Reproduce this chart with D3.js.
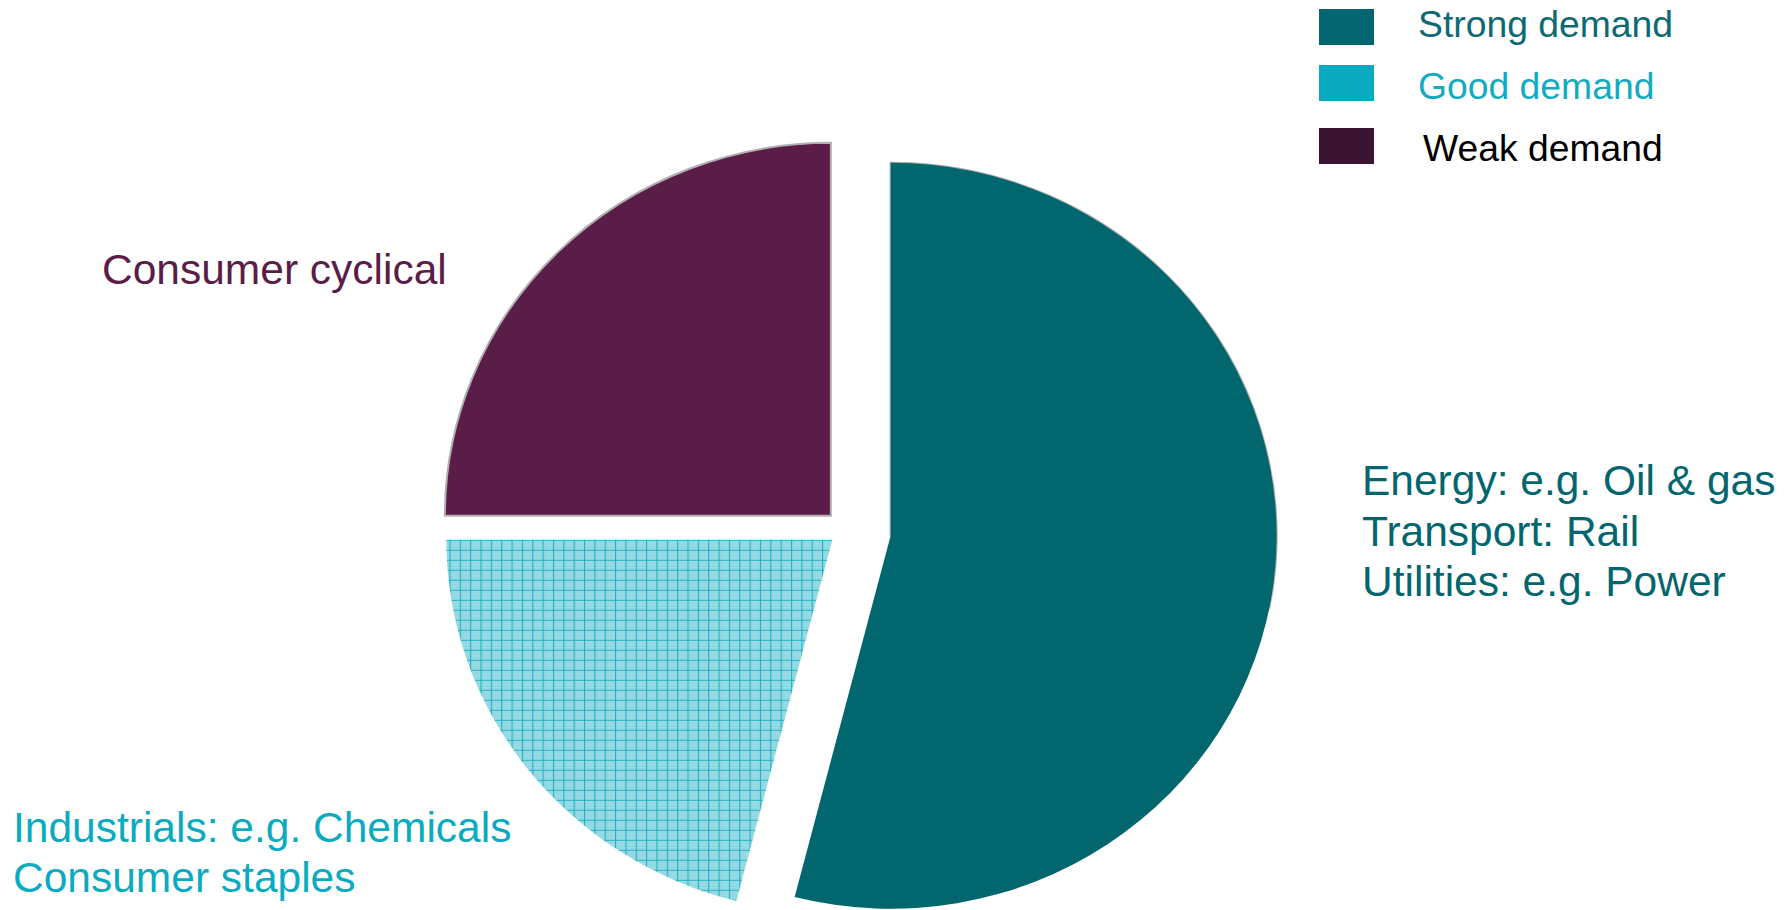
<!DOCTYPE html>
<html>
<head>
<meta charset="utf-8">
<script src="https://cdn.jsdelivr.net/npm/d3@7/dist/d3.min.js"></script>
<style>
  html, body { margin: 0; padding: 0; background: #ffffff; }
  svg { display: block; }
  text { font-family: "Liberation Sans", Arial, Helvetica, sans-serif; }
</style>
</head>
<body>
<svg id="chart" width="1791" height="910"></svg>
<script>
// ---- data ----
const categories = ["Strong demand", "Good demand", "Weak demand"];
const shares = [54, 21, 25];
const sectorLabels = [
  ["Energy: e.g. Oil & gas", "Transport: Rail", "Utilities: e.g. Power"],
  ["Industrials: e.g. Chemicals", "Consumer staples"],
  ["Consumer cyclical"]
];

// ---- styles / layout ----
const W = 1791, H = 910;
const cx = 845, cy = 530;
const ry = 373, sx = 386 / 373;
const explode = { "Strong demand": 46, "Good demand": 16, "Weak demand": 20 };
const sliceColor = d3.scaleOrdinal(categories, ["#02666f", "url(#gridPat)", "#5a1d48"]);
const swatchColor = d3.scaleOrdinal(categories, ["#02656f", "#0aabc1", "#3a1430"]);
const legendText = d3.scaleOrdinal(categories, ["#0d6a73", "#12abc1", "#000000"]);
const labelColor = d3.scaleOrdinal(categories, ["#03666f", "#0aabc1", "#5a1d48"]);
const strokeCol = "#b0b0b0";

const svg = d3.select("#chart");
const defs = svg.append("defs");
const pat = defs.append("pattern").attr("id", "gridPat")
  .attr("patternUnits", "userSpaceOnUse").attr("width", 10).attr("height", 10);
pat.append("rect").attr("width", 10).attr("height", 10).attr("fill", "#8ed7e1");
for (let i = 0; i < 10; i += 2) {
  for (let j = (i / 2) % 2 === 0 ? 2 : 3; j < 10; j += 2) {
    pat.append("rect").attr("x", j).attr("y", i + 1).attr("width", 1).attr("height", 1).attr("fill", "#a6e1e9");
  }
}
pat.append("rect").attr("x", 0).attr("y", 0).attr("width", 10).attr("height", 1).attr("fill", "#22b0c4");
pat.append("rect").attr("x", 0).attr("y", 0).attr("width", 1).attr("height", 10).attr("fill", "#22b0c4");

const pie = d3.pie().sort(null).value(d => d.value);
const arcs = pie(categories.map((c, i) => ({ cat: c, value: shares[i] })));
const arc = d3.arc().innerRadius(0).outerRadius(ry);

const g = svg.append("g");
arcs.forEach(a => {
  const mid = (a.startAngle + a.endAngle) / 2;
  const d = explode[a.data.cat];
  const ox = Math.sin(mid) * d, oy = -Math.cos(mid) * d;
  const sg = g.append("g")
    .attr("transform", `translate(${cx + ox},${cy + oy}) scale(${sx},1)`);
  if (a.data.cat === "Strong demand") {
    sg.append("path")
      .attr("d", arc({ startAngle: a.startAngle, endAngle: a.startAngle + (a.endAngle - a.startAngle) * 0.52 }))
      .attr("fill", sliceColor(a.data.cat))
      .attr("stroke", strokeCol).attr("stroke-width", 2)
      .attr("vector-effect", "non-scaling-stroke");
    sg.append("path").attr("d", arc(a)).attr("fill", sliceColor(a.data.cat));
  } else if (a.data.cat === "Weak demand") {
    sg.append("path").attr("d", arc(a)).attr("fill", sliceColor(a.data.cat))
      .attr("stroke", strokeCol).attr("stroke-width", 2)
      .attr("vector-effect", "non-scaling-stroke");
  } else {
    sg.append("path").attr("d", arc(a)).attr("fill", sliceColor(a.data.cat));
  }
});

// ---- sector labels ----
const labelPos = {
  "Strong demand": { x: 1362, y: 495, dy: 50.5 },
  "Good demand": { x: 13, y: 842, dy: 50 },
  "Weak demand": { x: 102, y: 284, dy: 48 }
};
categories.forEach((c, i) => {
  const p = labelPos[c];
  const t = svg.append("text").attr("x", p.x).attr("y", p.y)
    .attr("font-size", 42.5).attr("fill", labelColor(c));
  sectorLabels[i].forEach((line, k) => {
    t.append("tspan").attr("x", p.x).attr("y", p.y + k * p.dy).text(line);
  });
});

// ---- legend ----
const legBase = d3.scalePoint().domain(categories).range([37, 161]);
const swatchDrop = { "Strong demand": 28, "Good demand": 34, "Weak demand": 33 };
const lg = svg.append("g");
categories.forEach(c => {
  const yb = legBase(c);
  lg.append("rect").attr("x", 1319).attr("y", yb - swatchDrop[c]).attr("width", 55).attr("height", 36)
    .attr("fill", swatchColor(c));
  lg.append("text").attr("x", c === "Weak demand" ? 1423 : 1418).attr("y", yb)
    .attr("font-size", 37.3).attr("fill", legendText(c)).text(c);
});
</script>
</body>
</html>
